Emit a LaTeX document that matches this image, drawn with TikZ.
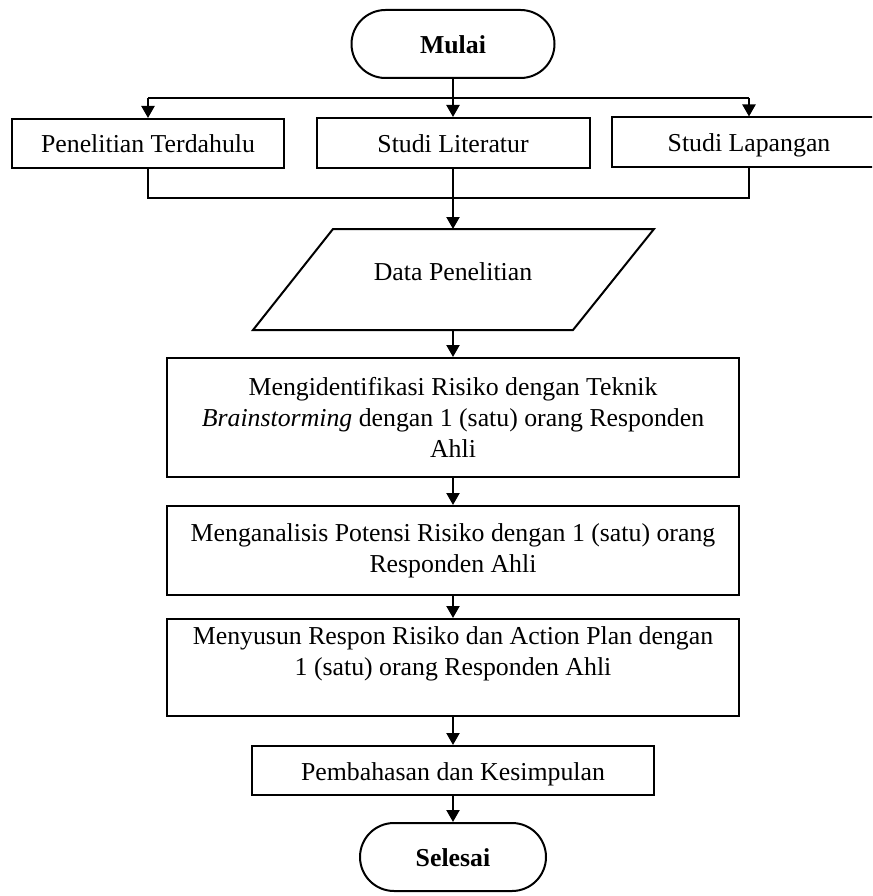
\documentclass[tikz,border=0pt]{standalone}
\usepackage{fontspec}
\setmainfont{Liberation Serif}
\usetikzlibrary{shapes.misc,arrows.meta}
\begin{document}
\begin{tikzpicture}[x=1pt,y=-1pt,
  font=\fontsize{25.8}{31}\selectfont,
  conn/.style={line width=2.2pt},
  arr/.style={line width=2.2pt,-{Triangle[length=12pt,width=13pt]}},
  procbox/.style={draw,line width=2pt,rectangle,inner sep=0pt,align=center},
  onebox/.style={procbox,text height=19pt,text depth=0pt},
  termbox/.style={draw,line width=2pt,rounded rectangle,inner sep=0pt,text height=19pt,text depth=0pt,font=\fontsize{25.8}{31}\selectfont\bfseries},
  lbl/.style={align=center,inner sep=0pt}]
\useasboundingbox (0,0) rectangle (872,896);
\clip (0,0) rectangle (872,896);

% terminals
\node[termbox,minimum width=203pt,minimum height=68pt] (mulai) at (453,44) {Mulai};
\node[termbox,minimum width=186pt,minimum height=68pt] (selesai) at (453,857) {Selesai};

% top row
\node[onebox,minimum width=272pt,minimum height=49pt] (pt) at (148,143.5) {Penelitian Terdahulu};
\node[onebox,minimum width=273pt,minimum height=50pt] (sl) at (453,143) {Studi Literatur};
\node[onebox,minimum width=274pt,minimum height=50pt] (slap) at (749,142.5) {Studi Lapangan};

% data parallelogram
\draw[line width=2pt] (333,229) -- (654,229) -- (573,330) -- (253,330) -- cycle;
\node[lbl] (data) at (453,272) {Data Penelitian};
\coordinate (dtop) at (453,229);
\coordinate (dbot) at (453,330);

% process boxes
\node[procbox,minimum width=572pt,minimum height=119pt] (b1) at (453,417.5)
  {Mengidentifikasi Risiko dengan Teknik\\ \textit{Brainstorming} dengan 1 (satu) orang Responden\\ Ahli};
\node[procbox,minimum width=572pt,minimum height=89pt] (b2) at (453,550.5)
  {Menganalisis Potensi Risiko dengan 1 (satu) orang\\ Responden Ahli};
\node[procbox,minimum width=572pt,minimum height=97pt] (b3) at (453,667.5) {};
\node[lbl] (b3t) at (453,654) {Menyusun Respon Risiko dan Action Plan dengan\\ 1 (satu) orang Responden Ahli};
\node[onebox,minimum width=402pt,minimum height=49pt] (b4) at (453,770.5) {Pembahasan dan Kesimpulan};

% connectors top
\coordinate (hl) at (148,98);
\coordinate (hr) at (749,98);
\draw[conn] (hl) -- (hr);
\draw[arr] (mulai.south) -- (sl.north);
\draw[arr] (hl) -- (pt.north);
\draw[arr] (hr) -- (slap.north);

% connectors below top row
\coordinate (bl) at (148,198);
\coordinate (br) at (749,198);
\draw[conn] (pt.south) -- (bl) -- (br) -- (slap.south);
\draw[arr] (sl.south) -- (dtop);

% main chain
\draw[arr] (dbot) -- (b1.north);
\draw[arr] (b1.south) -- (b2.north);
\draw[arr] (b2.south) -- (b3.north);
\draw[arr] (b3.south) -- (b4.north);
\draw[arr] (b4.south) -- (selesai.north);
\end{tikzpicture}
\end{document}
